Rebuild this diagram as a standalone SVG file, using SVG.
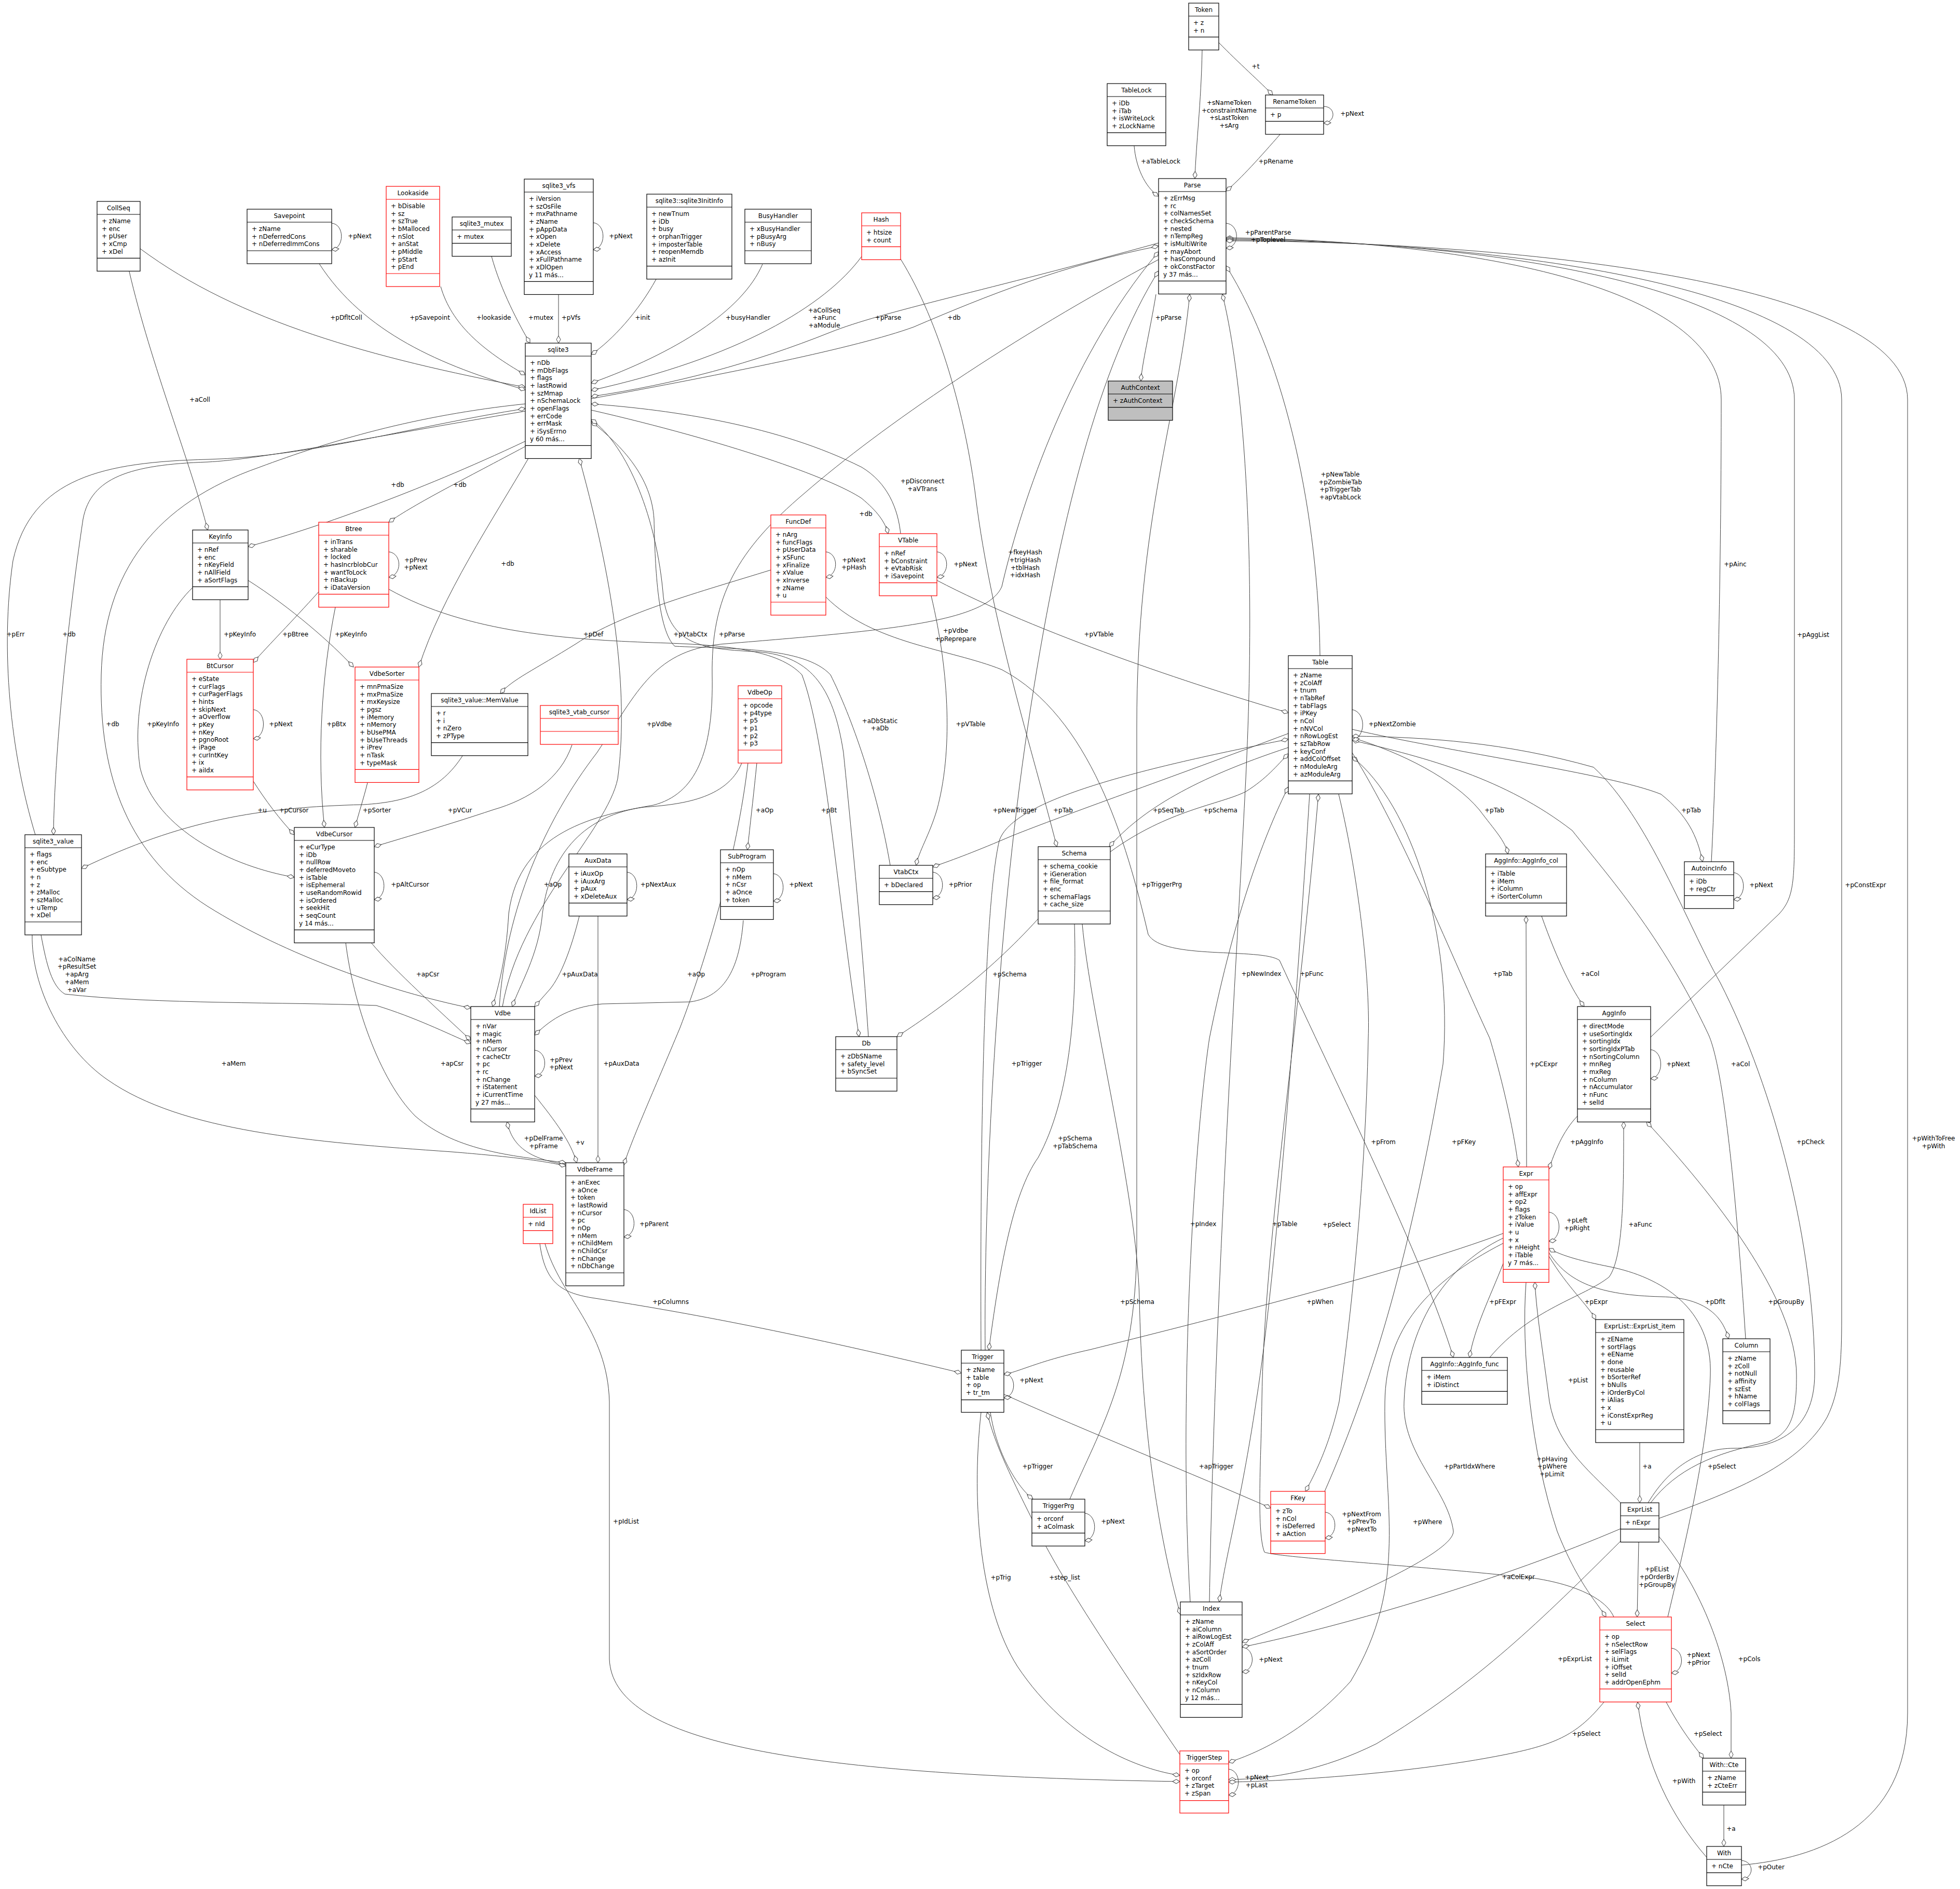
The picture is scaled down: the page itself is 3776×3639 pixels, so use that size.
<svg xmlns="http://www.w3.org/2000/svg" width="3776" height="3639" viewBox="0 0 3776 3639">
<style>
.n rect{fill:#fff;stroke:#000;stroke-width:1.2}
.n line{stroke:#000;stroke-width:1.2}
.r rect,.r line{stroke:#f00}
.g rect{fill:#bfbfbf}
text{font-family:"DejaVu Sans","Liberation Sans",sans-serif;font-size:12px;fill:#000}
.t,.l{text-anchor:middle}
#edges path{fill:none;stroke:#404040;stroke-width:1;marker-end:url(#d)}
</style>
<defs>
<marker id="d" markerUnits="userSpaceOnUse" markerWidth="16" markerHeight="10" viewBox="-15 -5 16 10" refX="0" refY="0" orient="auto"><path d="M0,0 L-7,-4 L-14,0 L-7,4 Z" fill="#fff" stroke="#404040" stroke-width="1"/></marker>
</defs>
<rect width="3776" height="3639" fill="#fff"/>
<g id="edges">
<path d="M2316,96 C2314,200 2304,280 2302,344"/>
<path d="M2348,82 C2385,120 2430,160 2452,183"/>
<path d="M2550,205 C2574,205 2574,236 2550,237"/>
<path d="M2466,259 C2430,300 2390,345 2362,368"/>
<path d="M2185,281 C2188,320 2205,360 2232,378"/>
<path d="M2362,430 C2388,432 2390,476 2362,478"/>
<path d="M2227,567 C2215,640 2200,700 2198,734"/>
<path d="M639,430 C664,432 664,478 639,481"/>
<path d="M1143,429 C1168,432 1168,478 1143,481"/>
<path d="M270,479 C460,620 720,690 1012,746"/>
<path d="M615,508 C700,640 850,705 1012,751"/>
<path d="M849,552 C870,625 930,675 1012,722"/>
<path d="M947,494 C965,560 1000,625 1021,661"/>
<path d="M1076,567 L1076,661"/>
<path d="M1264,538 C1230,600 1180,655 1139,683"/>
<path d="M1469,509 C1430,600 1300,680 1139,738"/>
<path d="M1660,494 C1590,590 1420,690 1139,752"/>
<path d="M2232,468 C1900,560 1700,600 1600,640 C1450,700 1300,740 1139,764"/>
<path d="M1139,768 C1400,720 1650,670 1760,630 C1900,570 2050,510 2232,474"/>
<path d="M1735,499 C1810,620 1860,800 1880,960 C1910,1200 1990,1450 2036,1631"/>
<path d="M2543,1263 C2540,1000 2480,700 2362,512"/>
<path d="M3297,1660 C3310,1400 3316,1050 3316,770 C3316,570 2900,465 2362,458"/>
<path d="M3180,1998 L3428,1760 C3455,1730 3457,1700 3457,1600 L3457,770 C3457,560 2900,465 2362,460"/>
<path d="M3196,2925 C3350,2870 3470,2820 3520,2730 C3545,2680 3548,2620 3548,2540 L3548,770 C3548,555 2900,465 2362,462"/>
<path d="M3355,3593 C3500,3580 3675,3520 3675,3300 L3675,770 C3675,540 2900,465 2362,464"/>
<path d="M1898,2601 C1895,2300 1920,1800 1980,1400 C2040,1000 2120,700 2232,522"/>
<path d="M2061,2888 C2120,2750 2188,2650 2190,2400 L2190,1400 C2190,1000 2270,800 2292,567"/>
<path d="M2330,3086 C2340,2500 2380,1900 2400,1500 C2420,1100 2400,750 2355,567"/>
<path d="M1591,1150 C1680,1240 1830,1250 1930,1290 C2100,1380 2170,1620 2212,1800 C2240,1850 2430,1825 2465,1850 C2580,2100 2740,2420 2800,2615"/>
<path d="M1890,2601 C1888,2200 1895,1750 1925,1620 C1950,1540 2200,1480 2482,1424"/>
<path d="M1805,1118 C2000,1220 2300,1320 2482,1373"/>
<path d="M1805,1063 C1830,1066 1830,1108 1805,1112"/>
<path d="M1591,1063 C1616,1066 1616,1108 1591,1112"/>
<path d="M1485,1098 C1350,1140 1200,1180 1110,1240 C1030,1290 985,1310 964,1336"/>
<path d="M1139,790 C1400,850 1600,920 1660,960 C1690,985 1705,1005 1711,1028"/>
<path d="M1735,1028 C1730,980 1710,930 1660,900 C1500,820 1300,790 1139,778"/>
<path d="M749,1063 C775,1066 775,1108 749,1112"/>
<path d="M1012,860 C900,920 800,970 749,1006"/>
<path d="M1012,850 C800,950 600,1020 478,1053"/>
<path d="M249,523 C290,700 370,900 400,1021"/>
<path d="M424,1155 L424,1270"/>
<path d="M614,1140 C560,1200 520,1240 488,1276"/>
<path d="M478,1118 C560,1170 640,1240 681,1285"/>
<path d="M1018,883 C950,1000 850,1150 807,1285"/>
<path d="M488,1367 C514,1370 514,1420 488,1423"/>
<path d="M371,1132 C300,1200 250,1350 270,1480 C300,1600 450,1670 567,1690"/>
<path d="M1012,778 C800,800 634,850 500,900 C300,970 200,1100 195,1300 C190,1500 250,1650 400,1746 C550,1840 750,1910 907,1942"/>
<path d="M68,1608 C20,1450 0,1250 25,1080 C60,920 200,890 400,885 C600,880 800,820 1012,787"/>
<path d="M1012,792 C700,845 500,885 400,890 C250,895 175,920 160,1000 C130,1200 105,1450 103,1608"/>
<path d="M891,1456 C850,1520 790,1545 700,1550 C500,1555 350,1580 157,1673"/>
<path d="M488,1505 C510,1540 540,1580 567,1608"/>
<path d="M646,1170 C620,1300 610,1450 625,1594"/>
<path d="M708,1508 C700,1540 690,1570 684,1594"/>
<path d="M1102,1435 C1080,1500 1020,1540 950,1560 C860,1590 790,1610 721,1631"/>
<path d="M721,1680 C746,1683 746,1730 721,1733"/>
<path d="M1208,1680 C1233,1683 1233,1730 1208,1733"/>
<path d="M1458,1470 C1452,1530 1445,1590 1440,1637"/>
<path d="M1490,1683 C1515,1686 1515,1733 1490,1736"/>
<path d="M1797,1680 C1822,1683 1822,1727 1797,1730"/>
<path d="M1794,1148 C1830,1300 1835,1450 1805,1560 C1790,1610 1770,1640 1765,1667"/>
<path d="M2482,1413 C2250,1500 2050,1570 1950,1610 C1880,1640 1840,1655 1797,1670"/>
<path d="M2482,1440 C2300,1500 2200,1560 2137,1631"/>
<path d="M2139,1641 C2250,1560 2350,1550 2400,1525 C2440,1500 2460,1475 2482,1452"/>
<path d="M2232,500 C1950,650 1700,820 1550,950 C1420,1060 1370,1150 1372,1300 C1375,1450 1340,1530 1259,1551 C1150,1570 1000,1600 980,1760 C975,1850 960,1900 949,1939"/>
<path d="M962,1939 C975,1750 1050,1580 1150,1450 C1230,1330 1260,1250 1400,1240 C1700,1215 1900,1200 1930,1130 C1960,1000 2050,700 2232,485"/>
<path d="M968,1939 C1000,1750 1170,1600 1190,1500 C1210,1350 1190,1150 1116,883"/>
<path d="M1715,1667 C1690,1520 1640,1380 1600,1300 C1550,1245 1400,1250 1300,1245 C1268,1215 1262,1100 1260,1000 C1255,920 1200,860 1139,812"/>
<path d="M1673,1997 C1660,1800 1640,1600 1625,1450 C1605,1320 1560,1260 1450,1255 C1350,1250 1290,1240 1278,1150 C1266,1000 1210,860 1139,808"/>
<path d="M749,1135 C900,1220 1100,1232 1259,1238 C1400,1242 1500,1252 1545,1300 C1590,1420 1610,1700 1655,1997"/>
<path d="M1429,1470 C1400,1540 1310,1550 1240,1555 C1130,1570 1060,1640 1045,1760 C1038,1840 1000,1900 987,1939"/>
<path d="M1441,1470 C1420,1650 1360,1850 1310,1980 C1260,2100 1215,2200 1202,2244"/>
<path d="M1116,1765 C1100,1830 1080,1880 1060,1905 L1030,1939"/>
<path d="M1432,1773 C1425,1860 1400,1920 1330,1930 L1160,1934 C1090,1940 1055,1970 1030,1994"/>
<path d="M715,1816 C760,1870 850,1950 907,2004"/>
<path d="M666,1816 C680,1930 730,2080 800,2150 C880,2220 1000,2228 1090,2240"/>
<path d="M79,1801 C90,1860 100,1900 125,1915 C300,1935 550,1930 725,1937 C800,1960 860,1990 907,2010"/>
<path d="M62,1801 C60,1900 120,2020 207,2080 C350,2180 600,2200 871,2219 C980,2228 1040,2235 1090,2246"/>
<path d="M1030,2023 C1056,2026 1056,2070 1030,2073"/>
<path d="M1090,2243 C1010,2232 985,2200 977,2161"/>
<path d="M1030,2110 C1070,2160 1100,2200 1111,2240"/>
<path d="M1152,1765 L1152,2240"/>
<path d="M1202,2330 C1228,2333 1228,2380 1202,2383"/>
<path d="M1040,2396 C1050,2470 1080,2490 1140,2500 C1300,2525 1500,2560 1852,2645"/>
<path d="M1050,2396 C1080,2500 1170,2560 1174,2700 L1174,3196 C1180,3350 1500,3420 2273,3432"/>
<path d="M1934,2645 C1959,2648 1959,2690 1934,2693"/>
<path d="M1908,2721 C1920,2800 1960,2865 1990,2888"/>
<path d="M1890,2721 C1870,2900 1890,3100 1960,3210 C2060,3360 2200,3410 2273,3420"/>
<path d="M2273,3380 C2150,3200 2050,3050 2000,2950 C1950,2850 1915,2780 1902,2721"/>
<path d="M2090,2915 C2115,2918 2115,2965 2090,2968"/>
<path d="M2000,1770 C1900,1880 1800,1950 1728,1997"/>
<path d="M2085,1780 C2100,1950 2190,2300 2195,2500 C2200,2750 2230,2950 2274,3110"/>
<path d="M2070,1780 C2075,1950 2060,2120 2000,2230 C1950,2300 1925,2450 1905,2601"/>
<path d="M2293,3086 C2270,2700 2300,2200 2330,2000 C2380,1750 2440,1600 2482,1516"/>
<path d="M2523,1530 C2500,1900 2460,2450 2420,2700 C2390,2900 2360,3000 2349,3086"/>
<path d="M2393,3173 C2419,3176 2419,3218 2393,3221"/>
<path d="M3122,2945 C2900,3040 2600,3130 2393,3173"/>
<path d="M2553,2913 C2578,2916 2578,2960 2553,2963"/>
<path d="M1934,2686 C2100,2760 2300,2840 2448,2905"/>
<path d="M2579,1530 C2620,1700 2640,1900 2636,2000 C2630,2300 2600,2550 2580,2700 C2560,2790 2530,2845 2515,2873"/>
<path d="M2552,2873 C2650,2650 2720,2400 2780,2050 C2800,1800 2720,1550 2605,1458"/>
<path d="M2896,2376 C2700,2450 2300,2550 2100,2600 C2000,2622 1970,2640 1934,2648"/>
<path d="M2896,2385 C2780,2440 2710,2560 2705,2700 C2700,2800 2790,2870 2800,2950 C2800,3000 2500,3120 2393,3164"/>
<path d="M2896,2395 C2750,2470 2670,2560 2668,2700 C2665,2900 2715,3050 2602,3239 C2520,3330 2430,3375 2367,3395"/>
<path d="M2940,2470 C2930,2600 2950,2800 3000,2950 C3040,3050 3075,3085 3094,3115"/>
<path d="M2984,2335 C3010,2338 3010,2388 2984,2391"/>
<path d="M3039,2150 C3010,2180 2995,2220 2984,2252"/>
<path d="M2941,2248 L2940,1765"/>
<path d="M2605,1450 C2700,1600 2800,1850 2870,2000 C2900,2100 2920,2200 2925,2248"/>
<path d="M2605,1421 C2700,1450 2800,1500 2850,1560 C2880,1600 2900,1620 2905,1645"/>
<path d="M2605,1405 C2800,1450 3100,1490 3200,1530 C3250,1570 3270,1610 3280,1660"/>
<path d="M3340,1681 C3365,1684 3365,1730 3340,1733"/>
<path d="M2970,1765 C3000,1850 3030,1910 3052,1939"/>
<path d="M3180,2022 C3206,2025 3206,2075 3180,2078"/>
<path d="M2870,2615 C2950,2520 3050,2500 3100,2460 C3128,2420 3128,2300 3128,2161"/>
<path d="M2896,2434 C2870,2500 2840,2560 2831,2615"/>
<path d="M3363,2579 C3345,2300 3320,2050 3290,1990 C3200,1800 3100,1690 3029,1600 C2900,1500 2750,1460 2605,1426"/>
<path d="M2984,2413 C3020,2470 3080,2495 3200,2498 C3290,2500 3320,2540 3330,2579"/>
<path d="M2984,2420 C3020,2480 3060,2515 3074,2542"/>
<path d="M3159,2779 L3159,2895"/>
<path d="M3122,2895 C3070,2840 3000,2790 2985,2700 C2972,2600 2960,2530 2957,2470"/>
<path d="M3213,3115 C3240,3000 3290,2800 3295,2650 C3300,2520 3200,2460 3100,2440 C3050,2430 3010,2420 2984,2405"/>
<path d="M3157,2971 L3154,3115"/>
<path d="M3180,2895 C3230,2830 3300,2800 3406,2778 C3450,2760 3461,2730 3461,2650 C3461,2500 3300,2300 3172,2161"/>
<path d="M3175,2895 C3220,2820 3280,2790 3340,2790 C3420,2790 3496,2760 3496,2646 C3496,2400 3420,2100 3314,1893 C3250,1780 3175,1574 3070,1478 C2900,1430 2750,1420 2605,1418"/>
<path d="M3122,2969 C2970,3120 2850,3240 2652,3359 C2550,3410 2450,3428 2367,3428"/>
<path d="M3090,3279 C3040,3340 3000,3360 2900,3380 C2700,3420 2450,3432 2367,3433"/>
<path d="M2367,3408 C2392,3411 2392,3455 2367,3458"/>
<path d="M3220,3175 C3246,3178 3246,3220 3220,3223"/>
<path d="M3210,3279 C3240,3335 3265,3365 3282,3387"/>
<path d="M3196,2960 C3280,3060 3330,3200 3335,3300 L3335,3387"/>
<path d="M3321,3477 L3321,3557"/>
<path d="M3288,3578 C3220,3500 3170,3400 3155,3279"/>
<path d="M3355,3584 C3380,3586 3380,3618 3355,3620"/>
<path d="M3109,3115 C3090,3070 3000,3040 2903,3035 C2700,3014 2460,3000 2436,2990 C2420,2950 2430,2800 2431,2700 C2435,2400 2500,2000 2540,1530"/>
<path d="M2605,1367 C2632,1372 2632,1420 2605,1426"/>
</g>
<g id="edge-labels">
<text class="l" x="2368" y="202">+sNameToken</text><text class="l" x="2368" y="217">+constraintName</text><text class="l" x="2368" y="231">+sLastToken</text><text class="l" x="2368" y="246">+sArg</text>
<text class="l" x="2419" y="132">+t</text>
<text class="l" x="2605" y="223">+pNext</text>
<text class="l" x="2458" y="315">+pRename</text>
<text class="l" x="2236" y="315">+aTableLock</text>
<text class="l" x="2443" y="452">+pParentParse</text><text class="l" x="2443" y="466">+pToplevel</text>
<text class="l" x="2251" y="616">+pParse</text>
<text class="l" x="693" y="459">+pNext</text>
<text class="l" x="1196" y="459">+pNext</text>
<text class="l" x="667" y="616">+pDfltColl</text>
<text class="l" x="828" y="616">+pSavepoint</text>
<text class="l" x="951" y="616">+lookaside</text>
<text class="l" x="1042" y="616">+mutex</text>
<text class="l" x="1100" y="616">+pVfs</text>
<text class="l" x="1238" y="616">+init</text>
<text class="l" x="1441" y="616">+busyHandler</text>
<text class="l" x="1588" y="602">+aCollSeq</text><text class="l" x="1588" y="616">+aFunc</text><text class="l" x="1588" y="631">+aModule</text>
<text class="l" x="1711" y="616">+pParse</text>
<text class="l" x="1838" y="616">+db</text>
<text class="l" x="1975" y="1068">+fkeyHash</text><text class="l" x="1975" y="1083">+trigHash</text><text class="l" x="1975" y="1098">+tblHash</text><text class="l" x="1975" y="1112">+idxHash</text>
<text class="l" x="2582" y="918">+pNewTable</text><text class="l" x="2582" y="933">+pZombieTab</text><text class="l" x="2582" y="947">+pTriggerTab</text><text class="l" x="2582" y="962">+apVtabLock</text>
<text class="l" x="3343" y="1091">+pAinc</text>
<text class="l" x="3493" y="1227">+pAggList</text>
<text class="l" x="3594" y="1709">+pConstExpr</text>
<text class="l" x="3725" y="2197">+pWithToFree</text><text class="l" x="3725" y="2212">+pWith</text>
<text class="l" x="1955" y="1565">+pNewTrigger</text>
<text class="l" x="2238" y="1708">+pTriggerPrg</text>
<text class="l" x="2430" y="1880">+pNewIndex</text>
<text class="l" x="2527" y="1880">+pFunc</text>
<text class="l" x="1978" y="2053">+pTrigger</text>
<text class="l" x="2117" y="1226">+pVTable</text>
<text class="l" x="1860" y="1091">+pNext</text>
<text class="l" x="1645" y="1083">+pNext</text><text class="l" x="1645" y="1097">+pHash</text>
<text class="l" x="1143" y="1226">+pDef</text>
<text class="l" x="1668" y="994">+db</text>
<text class="l" x="1777" y="931">+pDisconnect</text><text class="l" x="1777" y="946">+aVTrans</text>
<text class="l" x="801" y="1083">+pPrev</text><text class="l" x="801" y="1097">+pNext</text>
<text class="l" x="886" y="938">+db</text>
<text class="l" x="766" y="938">+db</text>
<text class="l" x="385" y="774">+aColl</text>
<text class="l" x="462" y="1226">+pKeyInfo</text>
<text class="l" x="569" y="1226">+pBtree</text>
<text class="l" x="676" y="1226">+pKeyInfo</text>
<text class="l" x="978" y="1090">+db</text>
<text class="l" x="541" y="1399">+pNext</text>
<text class="l" x="314" y="1399">+pKeyInfo</text>
<text class="l" x="217" y="1399">+db</text>
<text class="l" x="30" y="1226">+pErr</text>
<text class="l" x="133" y="1226">+db</text>
<text class="l" x="505" y="1565">+u</text>
<text class="l" x="566" y="1565">+pCursor</text>
<text class="l" x="648" y="1399">+pBtx</text>
<text class="l" x="726" y="1565">+pSorter</text>
<text class="l" x="886" y="1565">+pVCur</text>
<text class="l" x="790" y="1708">+pAltCursor</text>
<text class="l" x="1268" y="1708">+pNextAux</text>
<text class="l" x="1473" y="1565">+aOp</text>
<text class="l" x="1543" y="1708">+pNext</text>
<text class="l" x="1850" y="1708">+pPrior</text>
<text class="l" x="1870" y="1399">+pVTable</text>
<text class="l" x="2048" y="1565">+pTab</text>
<text class="l" x="2251" y="1565">+pSeqTab</text>
<text class="l" x="2351" y="1565">+pSchema</text>
<text class="l" x="1410" y="1226">+pParse</text>
<text class="l" x="1841" y="1219">+pVdbe</text><text class="l" x="1841" y="1235">+pReprepare</text>
<text class="l" x="1270" y="1399">+pVdbe</text>
<text class="l" x="1330" y="1226">+pVtabCtx</text>
<text class="l" x="1695" y="1393">+aDbStatic</text><text class="l" x="1695" y="1407">+aDb</text>
<text class="l" x="1597" y="1565">+pBt</text>
<text class="l" x="1065" y="1708">+aOp</text>
<text class="l" x="1341" y="1881">+aOp</text>
<text class="l" x="1117" y="1881">+pAuxData</text>
<text class="l" x="1480" y="1881">+pProgram</text>
<text class="l" x="824" y="1881">+apCsr</text>
<text class="l" x="871" y="2053">+apCsr</text>
<text class="l" x="148" y="1852">+aColName</text><text class="l" x="148" y="1866">+pResultSet</text><text class="l" x="148" y="1881">+apArg</text><text class="l" x="148" y="1896">+aMem</text><text class="l" x="148" y="1911">+aVar</text>
<text class="l" x="450" y="2053">+aMem</text>
<text class="l" x="1081" y="2046">+pPrev</text><text class="l" x="1081" y="2060">+pNext</text>
<text class="l" x="1047" y="2197">+pDelFrame</text><text class="l" x="1047" y="2212">+pFrame</text>
<text class="l" x="1117" y="2205">+v</text>
<text class="l" x="1197" y="2053">+pAuxData</text>
<text class="l" x="1260" y="2362">+pParent</text>
<text class="l" x="1292" y="2512">+pColumns</text>
<text class="l" x="1206" y="2935">+pIdList</text>
<text class="l" x="1987" y="2663">+pNext</text>
<text class="l" x="1999" y="2829">+pTrigger</text>
<text class="l" x="1928" y="3043">+pTrig</text>
<text class="l" x="2051" y="3043">+step_list</text>
<text class="l" x="2144" y="2935">+pNext</text>
<text class="l" x="1945" y="1881">+pSchema</text>
<text class="l" x="2191" y="2512">+pSchema</text>
<text class="l" x="2071" y="2197">+pSchema</text><text class="l" x="2071" y="2212">+pTabSchema</text>
<text class="l" x="2318" y="2362">+pIndex</text>
<text class="l" x="2475" y="2362">+pTable</text>
<text class="l" x="2448" y="3201">+pNext</text>
<text class="l" x="2925" y="3042">+aColExpr</text>
<text class="l" x="2623" y="2921">+pNextFrom</text><text class="l" x="2623" y="2935">+pPrevTo</text><text class="l" x="2623" y="2950">+pNextTo</text>
<text class="l" x="2343" y="2829">+apTrigger</text>
<text class="l" x="2665" y="2204">+pFrom</text>
<text class="l" x="2820" y="2204">+pFKey</text>
<text class="l" x="2543" y="2512">+pWhen</text>
<text class="l" x="2831" y="2829">+pPartIdxWhere</text>
<text class="l" x="2750" y="2936">+pWhere</text>
<text class="l" x="2990" y="2815">+pHaving</text><text class="l" x="2990" y="2829">+pWhere</text><text class="l" x="2990" y="2844">+pLimit</text>
<text class="l" x="3038" y="2355">+pLeft</text><text class="l" x="3038" y="2370">+pRight</text>
<text class="l" x="3057" y="2204">+pAggInfo</text>
<text class="l" x="2974" y="2054">+pCExpr</text>
<text class="l" x="2895" y="1880">+pTab</text>
<text class="l" x="2879" y="1565">+pTab</text>
<text class="l" x="3258" y="1565">+pTab</text>
<text class="l" x="3393" y="1709">+pNext</text>
<text class="l" x="3063" y="1880">+aCol</text>
<text class="l" x="3233" y="2054">+pNext</text>
<text class="l" x="3160" y="2363">+aFunc</text>
<text class="l" x="2895" y="2512">+pFExpr</text>
<text class="l" x="3353" y="2054">+aCol</text>
<text class="l" x="3304" y="2512">+pDflt</text>
<text class="l" x="3075" y="2512">+pExpr</text>
<text class="l" x="3173" y="2829">+a</text>
<text class="l" x="3040" y="2663">+pList</text>
<text class="l" x="3317" y="2829">+pSelect</text>
<text class="l" x="3192" y="3027">+pEList</text><text class="l" x="3192" y="3042">+pOrderBy</text><text class="l" x="3192" y="3057">+pGroupBy</text>
<text class="l" x="3441" y="2512">+pGroupBy</text>
<text class="l" x="3488" y="2204">+pCheck</text>
<text class="l" x="3034" y="3200">+pExprList</text>
<text class="l" x="3056" y="3344">+pSelect</text>
<text class="l" x="2421" y="3428">+pNext</text><text class="l" x="2421" y="3443">+pLast</text>
<text class="l" x="3272" y="3192">+pNext</text><text class="l" x="3272" y="3207">+pPrior</text>
<text class="l" x="3290" y="3344">+pSelect</text>
<text class="l" x="3370" y="3200">+pCols</text>
<text class="l" x="3335" y="3527">+a</text>
<text class="l" x="3244" y="3435">+pWith</text>
<text class="l" x="3412" y="3601">+pOuter</text>
<text class="l" x="2575" y="2363">+pSelect</text>
<text class="l" x="2682" y="1399">+pNextZombie</text>
</g>
<g id="nodes">
<g id="Token" class="n"><rect x="2290" y="6" width="58" height="90.3"/><line x1="2290" y1="31" x2="2348" y2="31"/><line x1="2290" y1="71.3" x2="2348" y2="71.3"/><text class="t" x="2319" y="23">Token</text><text x="2299" y="48"><tspan x="2299">+ z</tspan><tspan x="2299" dy="14.67">+ n</tspan></text></g>
<g id="RenameToken" class="n"><rect x="2438" y="183" width="112" height="75.7"/><line x1="2438" y1="208" x2="2550" y2="208"/><line x1="2438" y1="233.7" x2="2550" y2="233.7"/><text class="t" x="2494" y="200">RenameToken</text><text x="2447" y="225">+ p</text></g>
<g id="TableLock" class="n"><rect x="2133" y="161" width="113" height="119.7"/><line x1="2133" y1="186" x2="2246" y2="186"/><line x1="2133" y1="255.7" x2="2246" y2="255.7"/><text class="t" x="2189.5" y="178">TableLock</text><text x="2142" y="203"><tspan x="2142">+ iDb</tspan><tspan x="2142" dy="14.67">+ iTab</tspan><tspan x="2142" dy="14.67">+ isWriteLock</tspan><tspan x="2142" dy="14.67">+ zLockName</tspan></text></g>
<g id="Parse" class="n"><rect x="2232" y="344" width="130" height="222.4"/><line x1="2232" y1="369" x2="2362" y2="369"/><line x1="2232" y1="541.4" x2="2362" y2="541.4"/><text class="t" x="2297" y="361">Parse</text><text x="2241" y="386"><tspan x="2241">+ zErrMsg</tspan><tspan x="2241" dy="14.67">+ rc</tspan><tspan x="2241" dy="14.67">+ colNamesSet</tspan><tspan x="2241" dy="14.67">+ checkSchema</tspan><tspan x="2241" dy="14.67">+ nested</tspan><tspan x="2241" dy="14.67">+ nTempReg</tspan><tspan x="2241" dy="14.67">+ isMultiWrite</tspan><tspan x="2241" dy="14.67">+ mayAbort</tspan><tspan x="2241" dy="14.67">+ hasCompound</tspan><tspan x="2241" dy="14.67">+ okConstFactor</tspan><tspan x="2241" dy="14.67">y 37 más...</tspan></text></g>
<g id="AuthContext" class="n g"><rect x="2135" y="734" width="124" height="75.7"/><line x1="2135" y1="759" x2="2259" y2="759"/><line x1="2135" y1="784.7" x2="2259" y2="784.7"/><text class="t" x="2197" y="751">AuthContext</text><text x="2144" y="776">+ zAuthContext</text></g>
<g id="sqlite3" class="n"><rect x="1012" y="661" width="127" height="222.4"/><line x1="1012" y1="686" x2="1139" y2="686"/><line x1="1012" y1="858.4" x2="1139" y2="858.4"/><text class="t" x="1075.5" y="678">sqlite3</text><text x="1021" y="703"><tspan x="1021">+ nDb</tspan><tspan x="1021" dy="14.67">+ mDbFlags</tspan><tspan x="1021" dy="14.67">+ flags</tspan><tspan x="1021" dy="14.67">+ lastRowid</tspan><tspan x="1021" dy="14.67">+ szMmap</tspan><tspan x="1021" dy="14.67">+ nSchemaLock</tspan><tspan x="1021" dy="14.67">+ openFlags</tspan><tspan x="1021" dy="14.67">+ errCode</tspan><tspan x="1021" dy="14.67">+ errMask</tspan><tspan x="1021" dy="14.67">+ iSysErrno</tspan><tspan x="1021" dy="14.67">y 60 más...</tspan></text></g>
<g id="CollSeq" class="n"><rect x="187" y="388" width="83" height="134.35"/><line x1="187" y1="413" x2="270" y2="413"/><line x1="187" y1="497.35" x2="270" y2="497.35"/><text class="t" x="228.5" y="405">CollSeq</text><text x="196" y="430"><tspan x="196">+ zName</tspan><tspan x="196" dy="14.67">+ enc</tspan><tspan x="196" dy="14.67">+ pUser</tspan><tspan x="196" dy="14.67">+ xCmp</tspan><tspan x="196" dy="14.67">+ xDel</tspan></text></g>
<g id="Savepoint" class="n"><rect x="476" y="403" width="163" height="105"/><line x1="476" y1="428" x2="639" y2="428"/><line x1="476" y1="483" x2="639" y2="483"/><text class="t" x="557.5" y="420">Savepoint</text><text x="485" y="445"><tspan x="485">+ zName</tspan><tspan x="485" dy="14.67">+ nDeferredCons</tspan><tspan x="485" dy="14.67">+ nDeferredImmCons</tspan></text></g>
<g id="Lookaside" class="n r"><rect x="744" y="359" width="103" height="193"/><line x1="744" y1="384" x2="847" y2="384"/><line x1="744" y1="527" x2="847" y2="527"/><text class="t" x="795.5" y="376">Lookaside</text><text x="753" y="401"><tspan x="753">+ bDisable</tspan><tspan x="753" dy="14.67">+ sz</tspan><tspan x="753" dy="14.67">+ szTrue</tspan><tspan x="753" dy="14.67">+ bMalloced</tspan><tspan x="753" dy="14.67">+ nSlot</tspan><tspan x="753" dy="14.67">+ anStat</tspan><tspan x="753" dy="14.67">+ pMiddle</tspan><tspan x="753" dy="14.67">+ pStart</tspan><tspan x="753" dy="14.67">+ pEnd</tspan></text></g>
<g id="sqlite3_mutex" class="n"><rect x="871" y="418" width="114" height="75.7"/><line x1="871" y1="443" x2="985" y2="443"/><line x1="871" y1="468.7" x2="985" y2="468.7"/><text class="t" x="928" y="435">sqlite3_mutex</text><text x="880" y="460">+ mutex</text></g>
<g id="sqlite3_vfs" class="n"><rect x="1010" y="345" width="133" height="222.4"/><line x1="1010" y1="370" x2="1143" y2="370"/><line x1="1010" y1="542.4" x2="1143" y2="542.4"/><text class="t" x="1076.5" y="362">sqlite3_vfs</text><text x="1019" y="387"><tspan x="1019">+ iVersion</tspan><tspan x="1019" dy="14.67">+ szOsFile</tspan><tspan x="1019" dy="14.67">+ mxPathname</tspan><tspan x="1019" dy="14.67">+ zName</tspan><tspan x="1019" dy="14.67">+ pAppData</tspan><tspan x="1019" dy="14.67">+ xOpen</tspan><tspan x="1019" dy="14.67">+ xDelete</tspan><tspan x="1019" dy="14.67">+ xAccess</tspan><tspan x="1019" dy="14.67">+ xFullPathname</tspan><tspan x="1019" dy="14.67">+ xDlOpen</tspan><tspan x="1019" dy="14.67">y 11 más...</tspan></text></g>
<g id="sqlite3InitInfo" class="n"><rect x="1246" y="374" width="164" height="163.7"/><line x1="1246" y1="399" x2="1410" y2="399"/><line x1="1246" y1="512.7" x2="1410" y2="512.7"/><text class="t" x="1328" y="391">sqlite3::sqlite3InitInfo</text><text x="1255" y="416"><tspan x="1255">+ newTnum</tspan><tspan x="1255" dy="14.67">+ iDb</tspan><tspan x="1255" dy="14.67">+ busy</tspan><tspan x="1255" dy="14.67">+ orphanTrigger</tspan><tspan x="1255" dy="14.67">+ imposterTable</tspan><tspan x="1255" dy="14.67">+ reopenMemdb</tspan><tspan x="1255" dy="14.67">+ azInit</tspan></text></g>
<g id="BusyHandler" class="n"><rect x="1435" y="403" width="128" height="105"/><line x1="1435" y1="428" x2="1563" y2="428"/><line x1="1435" y1="483" x2="1563" y2="483"/><text class="t" x="1499" y="420">BusyHandler</text><text x="1444" y="445"><tspan x="1444">+ xBusyHandler</tspan><tspan x="1444" dy="14.67">+ pBusyArg</tspan><tspan x="1444" dy="14.67">+ nBusy</tspan></text></g>
<g id="Hash" class="n r"><rect x="1660" y="410" width="75" height="90.3"/><line x1="1660" y1="435" x2="1735" y2="435"/><line x1="1660" y1="475.3" x2="1735" y2="475.3"/><text class="t" x="1697.5" y="427">Hash</text><text x="1669" y="452"><tspan x="1669">+ htsize</tspan><tspan x="1669" dy="14.67">+ count</tspan></text></g>
<g id="KeyInfo" class="n"><rect x="371" y="1021" width="107" height="134.35"/><line x1="371" y1="1046" x2="478" y2="1046"/><line x1="371" y1="1130.35" x2="478" y2="1130.35"/><text class="t" x="424.5" y="1038">KeyInfo</text><text x="380" y="1063"><tspan x="380">+ nRef</tspan><tspan x="380" dy="14.67">+ enc</tspan><tspan x="380" dy="14.67">+ nKeyField</tspan><tspan x="380" dy="14.67">+ nAllField</tspan><tspan x="380" dy="14.67">+ aSortFlags</tspan></text></g>
<g id="Btree" class="n r"><rect x="614" y="1006" width="135" height="163.7"/><line x1="614" y1="1031" x2="749" y2="1031"/><line x1="614" y1="1144.7" x2="749" y2="1144.7"/><text class="t" x="681.5" y="1023">Btree</text><text x="623" y="1048"><tspan x="623">+ inTrans</tspan><tspan x="623" dy="14.67">+ sharable</tspan><tspan x="623" dy="14.67">+ locked</tspan><tspan x="623" dy="14.67">+ hasIncrblobCur</tspan><tspan x="623" dy="14.67">+ wantToLock</tspan><tspan x="623" dy="14.67">+ nBackup</tspan><tspan x="623" dy="14.67">+ iDataVersion</tspan></text></g>
<g id="BtCursor" class="n r"><rect x="360" y="1270" width="128" height="251.7"/><line x1="360" y1="1295" x2="488" y2="1295"/><line x1="360" y1="1496.7" x2="488" y2="1496.7"/><text class="t" x="424" y="1287">BtCursor</text><text x="369" y="1312"><tspan x="369">+ eState</tspan><tspan x="369" dy="14.67">+ curFlags</tspan><tspan x="369" dy="14.67">+ curPagerFlags</tspan><tspan x="369" dy="14.67">+ hints</tspan><tspan x="369" dy="14.67">+ skipNext</tspan><tspan x="369" dy="14.67">+ aOverflow</tspan><tspan x="369" dy="14.67">+ pKey</tspan><tspan x="369" dy="14.67">+ nKey</tspan><tspan x="369" dy="14.67">+ pgnoRoot</tspan><tspan x="369" dy="14.67">+ iPage</tspan><tspan x="369" dy="14.67">+ curIntKey</tspan><tspan x="369" dy="14.67">+ ix</tspan><tspan x="369" dy="14.67">+ aiIdx</tspan></text></g>
<g id="VdbeSorter" class="n r"><rect x="684" y="1285" width="123" height="222.4"/><line x1="684" y1="1310" x2="807" y2="1310"/><line x1="684" y1="1482.4" x2="807" y2="1482.4"/><text class="t" x="745.5" y="1302">VdbeSorter</text><text x="693" y="1327"><tspan x="693">+ mnPmaSize</tspan><tspan x="693" dy="14.67">+ mxPmaSize</tspan><tspan x="693" dy="14.67">+ mxKeysize</tspan><tspan x="693" dy="14.67">+ pgsz</tspan><tspan x="693" dy="14.67">+ iMemory</tspan><tspan x="693" dy="14.67">+ nMemory</tspan><tspan x="693" dy="14.67">+ bUsePMA</tspan><tspan x="693" dy="14.67">+ bUseThreads</tspan><tspan x="693" dy="14.67">+ iPrev</tspan><tspan x="693" dy="14.67">+ nTask</tspan><tspan x="693" dy="14.67">+ typeMask</tspan></text></g>
<g id="MemValue" class="n"><rect x="831" y="1336" width="186" height="119.7"/><line x1="831" y1="1361" x2="1017" y2="1361"/><line x1="831" y1="1430.7" x2="1017" y2="1430.7"/><text class="t" x="924" y="1353">sqlite3_value::MemValue</text><text x="840" y="1378"><tspan x="840">+ r</tspan><tspan x="840" dy="14.67">+ i</tspan><tspan x="840" dy="14.67">+ nZero</tspan><tspan x="840" dy="14.67">+ zPType</tspan></text></g>
<g id="sqlite3_vtab_cursor" class="n r"><rect x="1041" y="1359" width="150" height="75"/><line x1="1041" y1="1384" x2="1191" y2="1384"/><line x1="1041" y1="1409" x2="1191" y2="1409"/><text class="t" x="1116" y="1376">sqlite3_vtab_cursor</text></g>
<g id="sqlite3_value" class="n"><rect x="48" y="1608" width="109" height="193"/><line x1="48" y1="1633" x2="157" y2="1633"/><line x1="48" y1="1776" x2="157" y2="1776"/><text class="t" x="102.5" y="1625">sqlite3_value</text><text x="57" y="1650"><tspan x="57">+ flags</tspan><tspan x="57" dy="14.67">+ enc</tspan><tspan x="57" dy="14.67">+ eSubtype</tspan><tspan x="57" dy="14.67">+ n</tspan><tspan x="57" dy="14.67">+ z</tspan><tspan x="57" dy="14.67">+ zMalloc</tspan><tspan x="57" dy="14.67">+ szMalloc</tspan><tspan x="57" dy="14.67">+ uTemp</tspan><tspan x="57" dy="14.67">+ xDel</tspan></text></g>
<g id="VdbeCursor" class="n"><rect x="567" y="1594" width="154" height="222.4"/><line x1="567" y1="1619" x2="721" y2="1619"/><line x1="567" y1="1791.4" x2="721" y2="1791.4"/><text class="t" x="644" y="1611">VdbeCursor</text><text x="576" y="1636"><tspan x="576">+ eCurType</tspan><tspan x="576" dy="14.67">+ iDb</tspan><tspan x="576" dy="14.67">+ nullRow</tspan><tspan x="576" dy="14.67">+ deferredMoveto</tspan><tspan x="576" dy="14.67">+ isTable</tspan><tspan x="576" dy="14.67">+ isEphemeral</tspan><tspan x="576" dy="14.67">+ useRandomRowid</tspan><tspan x="576" dy="14.67">+ isOrdered</tspan><tspan x="576" dy="14.67">+ seekHit</tspan><tspan x="576" dy="14.67">+ seqCount</tspan><tspan x="576" dy="14.67">y 14 más...</tspan></text></g>
<g id="AuxData" class="n"><rect x="1096" y="1645" width="112" height="119.7"/><line x1="1096" y1="1670" x2="1208" y2="1670"/><line x1="1096" y1="1739.7" x2="1208" y2="1739.7"/><text class="t" x="1152" y="1662">AuxData</text><text x="1105" y="1687"><tspan x="1105">+ iAuxOp</tspan><tspan x="1105" dy="14.67">+ iAuxArg</tspan><tspan x="1105" dy="14.67">+ pAux</tspan><tspan x="1105" dy="14.67">+ xDeleteAux</tspan></text></g>
<g id="FuncDef" class="n r"><rect x="1485" y="992" width="106" height="193"/><line x1="1485" y1="1017" x2="1591" y2="1017"/><line x1="1485" y1="1160" x2="1591" y2="1160"/><text class="t" x="1538" y="1009">FuncDef</text><text x="1494" y="1034"><tspan x="1494">+ nArg</tspan><tspan x="1494" dy="14.67">+ funcFlags</tspan><tspan x="1494" dy="14.67">+ pUserData</tspan><tspan x="1494" dy="14.67">+ xSFunc</tspan><tspan x="1494" dy="14.67">+ xFinalize</tspan><tspan x="1494" dy="14.67">+ xValue</tspan><tspan x="1494" dy="14.67">+ xInverse</tspan><tspan x="1494" dy="14.67">+ zName</tspan><tspan x="1494" dy="14.67">+ u</tspan></text></g>
<g id="VTable" class="n r"><rect x="1694" y="1028" width="111" height="119.7"/><line x1="1694" y1="1053" x2="1805" y2="1053"/><line x1="1694" y1="1122.7" x2="1805" y2="1122.7"/><text class="t" x="1749.5" y="1045">VTable</text><text x="1703" y="1070"><tspan x="1703">+ nRef</tspan><tspan x="1703" dy="14.67">+ bConstraint</tspan><tspan x="1703" dy="14.67">+ eVtabRisk</tspan><tspan x="1703" dy="14.67">+ iSavepoint</tspan></text></g>
<g id="VdbeOp" class="n r"><rect x="1422" y="1321" width="84" height="149"/><line x1="1422" y1="1346" x2="1506" y2="1346"/><line x1="1422" y1="1445" x2="1506" y2="1445"/><text class="t" x="1464" y="1338">VdbeOp</text><text x="1431" y="1363"><tspan x="1431">+ opcode</tspan><tspan x="1431" dy="14.67">+ p4type</tspan><tspan x="1431" dy="14.67">+ p5</tspan><tspan x="1431" dy="14.67">+ p1</tspan><tspan x="1431" dy="14.67">+ p2</tspan><tspan x="1431" dy="14.67">+ p3</tspan></text></g>
<g id="SubProgram" class="n"><rect x="1388" y="1637" width="102" height="134.35"/><line x1="1388" y1="1662" x2="1490" y2="1662"/><line x1="1388" y1="1746.35" x2="1490" y2="1746.35"/><text class="t" x="1439" y="1654">SubProgram</text><text x="1397" y="1679"><tspan x="1397">+ nOp</tspan><tspan x="1397" dy="14.67">+ nMem</tspan><tspan x="1397" dy="14.67">+ nCsr</tspan><tspan x="1397" dy="14.67">+ aOnce</tspan><tspan x="1397" dy="14.67">+ token</tspan></text></g>
<g id="VtabCtx" class="n"><rect x="1694" y="1667" width="103" height="75.7"/><line x1="1694" y1="1692" x2="1797" y2="1692"/><line x1="1694" y1="1717.7" x2="1797" y2="1717.7"/><text class="t" x="1745.5" y="1684">VtabCtx</text><text x="1703" y="1709">+ bDeclared</text></g>
<g id="Schema" class="n"><rect x="2000" y="1631" width="139" height="149"/><line x1="2000" y1="1656" x2="2139" y2="1656"/><line x1="2000" y1="1755" x2="2139" y2="1755"/><text class="t" x="2069.5" y="1648">Schema</text><text x="2009" y="1673"><tspan x="2009">+ schema_cookie</tspan><tspan x="2009" dy="14.67">+ iGeneration</tspan><tspan x="2009" dy="14.67">+ file_format</tspan><tspan x="2009" dy="14.67">+ enc</tspan><tspan x="2009" dy="14.67">+ schemaFlags</tspan><tspan x="2009" dy="14.67">+ cache_size</tspan></text></g>
<g id="Table" class="n"><rect x="2482" y="1263" width="123" height="266.4"/><line x1="2482" y1="1288" x2="2605" y2="1288"/><line x1="2482" y1="1504.4" x2="2605" y2="1504.4"/><text class="t" x="2543.5" y="1280">Table</text><text x="2491" y="1305"><tspan x="2491">+ zName</tspan><tspan x="2491" dy="14.67">+ zColAff</tspan><tspan x="2491" dy="14.67">+ tnum</tspan><tspan x="2491" dy="14.67">+ nTabRef</tspan><tspan x="2491" dy="14.67">+ tabFlags</tspan><tspan x="2491" dy="14.67">+ iPKey</tspan><tspan x="2491" dy="14.67">+ nCol</tspan><tspan x="2491" dy="14.67">+ nNVCol</tspan><tspan x="2491" dy="14.67">+ nRowLogEst</tspan><tspan x="2491" dy="14.67">+ szTabRow</tspan><tspan x="2491" dy="14.67">+ keyConf</tspan><tspan x="2491" dy="14.67">+ addColOffset</tspan><tspan x="2491" dy="14.67">+ nModuleArg</tspan><tspan x="2491" dy="14.67">+ azModuleArg</tspan></text></g>
<g id="Db" class="n"><rect x="1610" y="1997" width="118" height="105"/><line x1="1610" y1="2022" x2="1728" y2="2022"/><line x1="1610" y1="2077" x2="1728" y2="2077"/><text class="t" x="1669" y="2014">Db</text><text x="1619" y="2039"><tspan x="1619">+ zDbSName</tspan><tspan x="1619" dy="14.67">+ safety_level</tspan><tspan x="1619" dy="14.67">+ bSyncSet</tspan></text></g>
<g id="Vdbe" class="n"><rect x="907" y="1939" width="123" height="222.4"/><line x1="907" y1="1964" x2="1030" y2="1964"/><line x1="907" y1="2136.4" x2="1030" y2="2136.4"/><text class="t" x="968.5" y="1956">Vdbe</text><text x="916" y="1981"><tspan x="916">+ nVar</tspan><tspan x="916" dy="14.67">+ magic</tspan><tspan x="916" dy="14.67">+ nMem</tspan><tspan x="916" dy="14.67">+ nCursor</tspan><tspan x="916" dy="14.67">+ cacheCtr</tspan><tspan x="916" dy="14.67">+ pc</tspan><tspan x="916" dy="14.67">+ rc</tspan><tspan x="916" dy="14.67">+ nChange</tspan><tspan x="916" dy="14.67">+ iStatement</tspan><tspan x="916" dy="14.67">+ iCurrentTime</tspan><tspan x="916" dy="14.67">y 27 más...</tspan></text></g>
<g id="VdbeFrame" class="n"><rect x="1090" y="2240" width="112" height="237"/><line x1="1090" y1="2265" x2="1202" y2="2265"/><line x1="1090" y1="2452" x2="1202" y2="2452"/><text class="t" x="1146" y="2257">VdbeFrame</text><text x="1099" y="2282"><tspan x="1099">+ anExec</tspan><tspan x="1099" dy="14.67">+ aOnce</tspan><tspan x="1099" dy="14.67">+ token</tspan><tspan x="1099" dy="14.67">+ lastRowid</tspan><tspan x="1099" dy="14.67">+ nCursor</tspan><tspan x="1099" dy="14.67">+ pc</tspan><tspan x="1099" dy="14.67">+ nOp</tspan><tspan x="1099" dy="14.67">+ nMem</tspan><tspan x="1099" dy="14.67">+ nChildMem</tspan><tspan x="1099" dy="14.67">+ nChildCsr</tspan><tspan x="1099" dy="14.67">+ nChange</tspan><tspan x="1099" dy="14.67">+ nDbChange</tspan></text></g>
<g id="IdList" class="n r"><rect x="1008" y="2320" width="57" height="75.7"/><line x1="1008" y1="2345" x2="1065" y2="2345"/><line x1="1008" y1="2370.7" x2="1065" y2="2370.7"/><text class="t" x="1036.5" y="2337">IdList</text><text x="1017" y="2362">+ nId</text></g>
<g id="Trigger" class="n"><rect x="1852" y="2601" width="82" height="119.7"/><line x1="1852" y1="2626" x2="1934" y2="2626"/><line x1="1852" y1="2696.7" x2="1934" y2="2696.7"/><text class="t" x="1893" y="2618">Trigger</text><text x="1861" y="2643"><tspan x="1861">+ zName</tspan><tspan x="1861" dy="14.67">+ table</tspan><tspan x="1861" dy="14.67">+ op</tspan><tspan x="1861" dy="14.67">+ tr_tm</tspan></text></g>
<g id="TriggerPrg" class="n"><rect x="1988" y="2888" width="102" height="90.3"/><line x1="1988" y1="2913" x2="2090" y2="2913"/><line x1="1988" y1="2953.3" x2="2090" y2="2953.3"/><text class="t" x="2039" y="2905">TriggerPrg</text><text x="1997" y="2930"><tspan x="1997">+ orconf</tspan><tspan x="1997" dy="14.67">+ aColmask</tspan></text></g>
<g id="AggInfo_col" class="n"><rect x="2862" y="1645" width="156" height="119.7"/><line x1="2862" y1="1670" x2="3018" y2="1670"/><line x1="2862" y1="1739.7" x2="3018" y2="1739.7"/><text class="t" x="2940" y="1662">AggInfo::AggInfo_col</text><text x="2871" y="1687"><tspan x="2871">+ iTable</tspan><tspan x="2871" dy="14.67">+ iMem</tspan><tspan x="2871" dy="14.67">+ iColumn</tspan><tspan x="2871" dy="14.67">+ iSorterColumn</tspan></text></g>
<g id="AutoincInfo" class="n"><rect x="3245" y="1660" width="95" height="90.3"/><line x1="3245" y1="1685" x2="3340" y2="1685"/><line x1="3245" y1="1725.3" x2="3340" y2="1725.3"/><text class="t" x="3292.5" y="1677">AutoincInfo</text><text x="3254" y="1702"><tspan x="3254">+ iDb</tspan><tspan x="3254" dy="14.67">+ regCtr</tspan></text></g>
<g id="AggInfo" class="n"><rect x="3039" y="1939" width="141" height="222.4"/><line x1="3039" y1="1964" x2="3180" y2="1964"/><line x1="3039" y1="2136.4" x2="3180" y2="2136.4"/><text class="t" x="3109.5" y="1956">AggInfo</text><text x="3048" y="1981"><tspan x="3048">+ directMode</tspan><tspan x="3048" dy="14.67">+ useSortingIdx</tspan><tspan x="3048" dy="14.67">+ sortingIdx</tspan><tspan x="3048" dy="14.67">+ sortingIdxPTab</tspan><tspan x="3048" dy="14.67">+ nSortingColumn</tspan><tspan x="3048" dy="14.67">+ mnReg</tspan><tspan x="3048" dy="14.67">+ mxReg</tspan><tspan x="3048" dy="14.67">+ nColumn</tspan><tspan x="3048" dy="14.67">+ nAccumulator</tspan><tspan x="3048" dy="14.67">+ nFunc</tspan><tspan x="3048" dy="14.67">+ selId</tspan></text></g>
<g id="Expr" class="n r"><rect x="2896" y="2248" width="88" height="222.4"/><line x1="2896" y1="2273" x2="2984" y2="2273"/><line x1="2896" y1="2445.4" x2="2984" y2="2445.4"/><text class="t" x="2940" y="2265">Expr</text><text x="2905" y="2290"><tspan x="2905">+ op</tspan><tspan x="2905" dy="14.67">+ affExpr</tspan><tspan x="2905" dy="14.67">+ op2</tspan><tspan x="2905" dy="14.67">+ flags</tspan><tspan x="2905" dy="14.67">+ zToken</tspan><tspan x="2905" dy="14.67">+ iValue</tspan><tspan x="2905" dy="14.67">+ u</tspan><tspan x="2905" dy="14.67">+ x</tspan><tspan x="2905" dy="14.67">+ nHeight</tspan><tspan x="2905" dy="14.67">+ iTable</tspan><tspan x="2905" dy="14.67">y 7 más...</tspan></text></g>
<g id="AggInfo_func" class="n"><rect x="2739" y="2615" width="165" height="90.3"/><line x1="2739" y1="2640" x2="2904" y2="2640"/><line x1="2739" y1="2680.3" x2="2904" y2="2680.3"/><text class="t" x="2821.5" y="2632">AggInfo::AggInfo_func</text><text x="2748" y="2657"><tspan x="2748">+ iMem</tspan><tspan x="2748" dy="14.67">+ iDistinct</tspan></text></g>
<g id="ExprList_item" class="n"><rect x="3074" y="2542" width="170" height="237"/><line x1="3074" y1="2567" x2="3244" y2="2567"/><line x1="3074" y1="2754" x2="3244" y2="2754"/><text class="t" x="3159" y="2559">ExprList::ExprList_item</text><text x="3083" y="2584"><tspan x="3083">+ zEName</tspan><tspan x="3083" dy="14.67">+ sortFlags</tspan><tspan x="3083" dy="14.67">+ eEName</tspan><tspan x="3083" dy="14.67">+ done</tspan><tspan x="3083" dy="14.67">+ reusable</tspan><tspan x="3083" dy="14.67">+ bSorterRef</tspan><tspan x="3083" dy="14.67">+ bNulls</tspan><tspan x="3083" dy="14.67">+ iOrderByCol</tspan><tspan x="3083" dy="14.67">+ iAlias</tspan><tspan x="3083" dy="14.67">+ x</tspan><tspan x="3083" dy="14.67">+ iConstExprReg</tspan><tspan x="3083" dy="14.67">+ u</tspan></text></g>
<g id="Column" class="n"><rect x="3319" y="2579" width="91" height="163.7"/><line x1="3319" y1="2604" x2="3410" y2="2604"/><line x1="3319" y1="2717.7" x2="3410" y2="2717.7"/><text class="t" x="3364.5" y="2596">Column</text><text x="3328" y="2621"><tspan x="3328">+ zName</tspan><tspan x="3328" dy="14.67">+ zColl</tspan><tspan x="3328" dy="14.67">+ notNull</tspan><tspan x="3328" dy="14.67">+ affinity</tspan><tspan x="3328" dy="14.67">+ szEst</tspan><tspan x="3328" dy="14.67">+ hName</tspan><tspan x="3328" dy="14.67">+ colFlags</tspan></text></g>
<g id="ExprList" class="n"><rect x="3122" y="2895" width="74" height="75.7"/><line x1="3122" y1="2920" x2="3196" y2="2920"/><line x1="3122" y1="2945.7" x2="3196" y2="2945.7"/><text class="t" x="3159" y="2912">ExprList</text><text x="3131" y="2937">+ nExpr</text></g>
<g id="Select" class="n r"><rect x="3082" y="3115" width="138" height="163.7"/><line x1="3082" y1="3140" x2="3220" y2="3140"/><line x1="3082" y1="3253.7" x2="3220" y2="3253.7"/><text class="t" x="3151" y="3132">Select</text><text x="3091" y="3157"><tspan x="3091">+ op</tspan><tspan x="3091" dy="14.67">+ nSelectRow</tspan><tspan x="3091" dy="14.67">+ selFlags</tspan><tspan x="3091" dy="14.67">+ iLimit</tspan><tspan x="3091" dy="14.67">+ iOffset</tspan><tspan x="3091" dy="14.67">+ selId</tspan><tspan x="3091" dy="14.67">+ addrOpenEphm</tspan></text></g>
<g id="FKey" class="n r"><rect x="2448" y="2873" width="105" height="119.7"/><line x1="2448" y1="2898" x2="2553" y2="2898"/><line x1="2448" y1="2968.7" x2="2553" y2="2968.7"/><text class="t" x="2500.5" y="2890">FKey</text><text x="2457" y="2915"><tspan x="2457">+ zTo</tspan><tspan x="2457" dy="14.67">+ nCol</tspan><tspan x="2457" dy="14.67">+ isDeferred</tspan><tspan x="2457" dy="14.67">+ aAction</tspan></text></g>
<g id="Index" class="n"><rect x="2274" y="3086" width="119" height="222.4"/><line x1="2274" y1="3111" x2="2393" y2="3111"/><line x1="2274" y1="3283.4" x2="2393" y2="3283.4"/><text class="t" x="2333.5" y="3103">Index</text><text x="2283" y="3128"><tspan x="2283">+ zName</tspan><tspan x="2283" dy="14.67">+ aiColumn</tspan><tspan x="2283" dy="14.67">+ aiRowLogEst</tspan><tspan x="2283" dy="14.67">+ zColAff</tspan><tspan x="2283" dy="14.67">+ aSortOrder</tspan><tspan x="2283" dy="14.67">+ azColl</tspan><tspan x="2283" dy="14.67">+ tnum</tspan><tspan x="2283" dy="14.67">+ szIdxRow</tspan><tspan x="2283" dy="14.67">+ nKeyCol</tspan><tspan x="2283" dy="14.67">+ nColumn</tspan><tspan x="2283" dy="14.67">y 12 más...</tspan></text></g>
<g id="TriggerStep" class="n r"><rect x="2273" y="3373" width="94" height="119.7"/><line x1="2273" y1="3398" x2="2367" y2="3398"/><line x1="2273" y1="3468.7" x2="2367" y2="3468.7"/><text class="t" x="2320" y="3390">TriggerStep</text><text x="2282" y="3415"><tspan x="2282">+ op</tspan><tspan x="2282" dy="14.67">+ orconf</tspan><tspan x="2282" dy="14.67">+ zTarget</tspan><tspan x="2282" dy="14.67">+ zSpan</tspan></text></g>
<g id="With_Cte" class="n"><rect x="3280" y="3387" width="83" height="90.3"/><line x1="3280" y1="3412" x2="3363" y2="3412"/><line x1="3280" y1="3452.3" x2="3363" y2="3452.3"/><text class="t" x="3321.5" y="3404">With::Cte</text><text x="3289" y="3429"><tspan x="3289">+ zName</tspan><tspan x="3289" dy="14.67">+ zCteErr</tspan></text></g>
<g id="With" class="n"><rect x="3288" y="3557" width="67" height="75.7"/><line x1="3288" y1="3582" x2="3355" y2="3582"/><line x1="3288" y1="3607.7" x2="3355" y2="3607.7"/><text class="t" x="3321.5" y="3574">With</text><text x="3297" y="3599">+ nCte</text></g>
</g>
</svg>
